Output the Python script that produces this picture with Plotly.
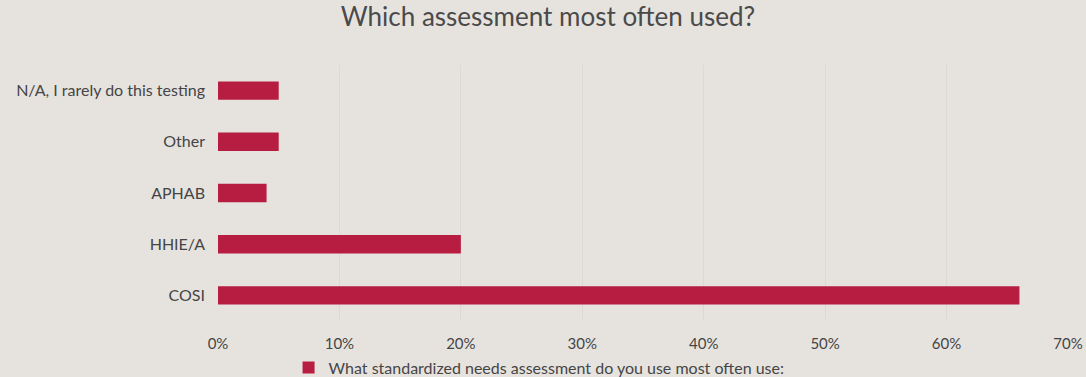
import plotly.graph_objects as go

# Survey responses (share of respondents)
categories = ["COSI", "HHIE/A", "APHAB", "Other", "N/A, I rarely do this testing"]
shares = [0.66, 0.20, 0.04, 0.05, 0.05]
series_name = "What standardized needs assessment do you use most often use:"
x_ticks = [0, 0.1, 0.2, 0.3, 0.4, 0.5, 0.6, 0.7]
x_tick_labels = ["0%", "10%", "20%", "30%", "40%", "50%", "60%", "70%"]

BAR = "#B71C41"
TEXT = "#454545"
BG = "#E6E3DF"
FONT = "Lato, 'Open Sans', sans-serif"

fig = go.Figure(
    go.Bar(
        x=shares,
        y=categories,
        orientation="h",
        name=series_name,
        marker=dict(color=BAR, line=dict(width=0)),
        width=0.36,
        showlegend=True,
    )
)

fig.update_layout(
    width=1086,
    height=377,
    paper_bgcolor=BG,
    plot_bgcolor=BG,
    margin=dict(l=218, r=18, t=65, b=56, autoexpand=False),
    font=dict(family=FONT, color=TEXT),
    title=dict(
        text="Which assessment most often used?",
        x=0.5046,
        xanchor="center",
        xref="container",
        y=0.955,
        yanchor="middle",
        yref="container",
        font=dict(size=26, color="#4A4A4A", family=FONT),
    ),
    xaxis=dict(
        range=[0, 0.7],
        tickvals=x_ticks,
        ticktext=x_tick_labels,
        showgrid=True,
        gridcolor="#DCD9D5",
        gridwidth=1,
        zeroline=False,
        showline=False,
        ticks="",
        automargin=False,
        tickfont=dict(size=15, color=TEXT, family=FONT),
        ticklabelstandoff=12,
    ),
    yaxis=dict(
        showgrid=False,
        zeroline=False,
        showline=False,
        ticks="",
        automargin=False,
        tickfont=dict(size=16, color=TEXT, family=FONT),
        ticklabelstandoff=12,
    ),
    legend=dict(
        orientation="h",
        xref="container",
        yref="container",
        x=0.2657,
        xanchor="left",
        y=0.025,
        yanchor="middle",
        font=dict(size=16, color=TEXT, family=FONT),
        bgcolor="rgba(0,0,0,0)",
        itemwidth=30,
    ),
)

fig.write_html("out.html")
